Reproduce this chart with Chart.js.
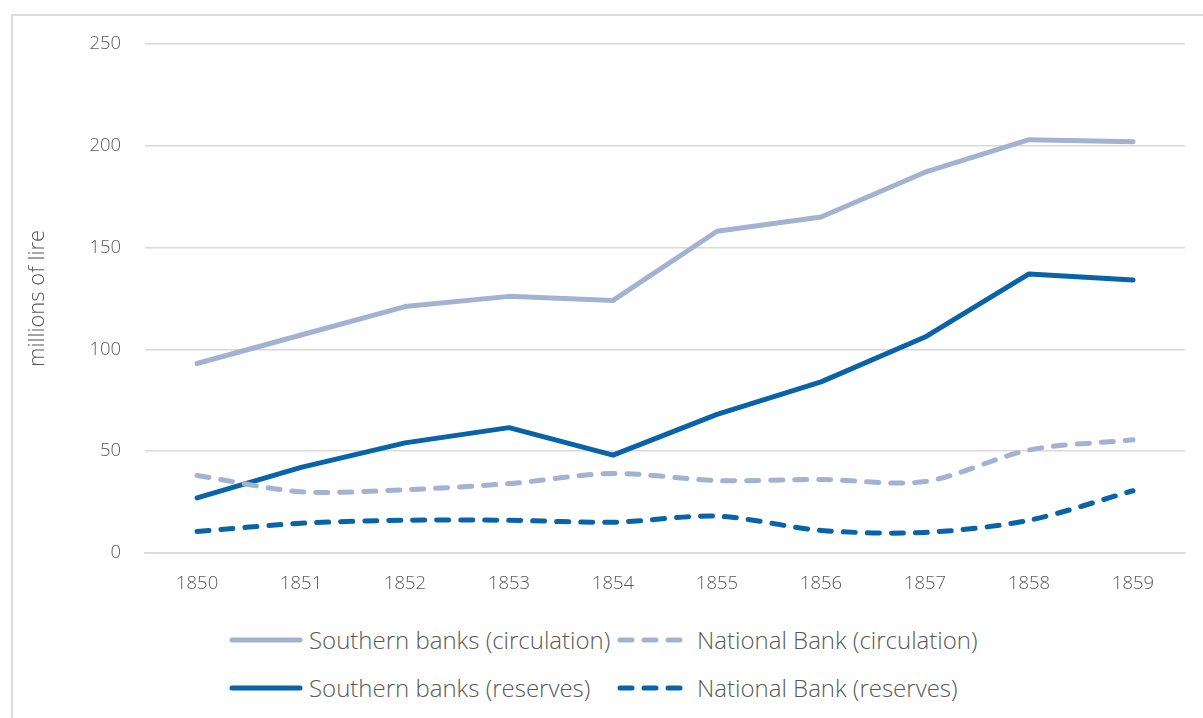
<!DOCTYPE html>
<html>
<head>
<meta charset="utf-8">
<script src="https://cdn.jsdelivr.net/npm/chart.js@4"></script>
<style>
  body { margin: 0; background: #fff; font-family: "Open Sans", sans-serif; }
  #frame { position: absolute; left: 11px; top: 14px; width: 1300px; height: 800px;
           border-left: 2px solid #dcdcdc; border-top: 2px solid #dcdcdc; }
  #wrap { position: absolute; left: 0; top: 0; width: 1203px; height: 607px; }
  .leg { position: absolute; display: flex; align-items: center; color: #595959;
         font-size: 24px; font-weight: 300; white-space: nowrap; }
  .leg canvas { margin-right: 6px; }
</style>
</head>
<body>
<div id="frame"></div>
<div id="wrap"><canvas id="chart"></canvas></div>
<div id="legend"></div>
<script>
//data
let years = ['1850','1851','1852','1853','1854','1855','1856','1857','1858','1859'];
let southernCirculation = [93, 107, 121, 126, 124, 158, 165, 187, 203, 202];
let nationalCirculation = [38, 30, 31, 34, 39, 35.5, 36, 35, 50.5, 55.5];
let southernReserves = [27, 42, 54, 61.5, 48, 68, 84, 106, 137, 134];
let nationalReserves = [10.5, 14.5, 16, 16, 15, 18, 11, 10, 16, 30.5];

const lightBlue = '#A3B2D1';
const darkBlue = '#0863A8';

let chartData = {
  labels: years,
  datasets: [
    { label: 'Southern banks (circulation)', data: southernCirculation,
      borderColor: lightBlue, borderWidth: 5, tension: 0 },
    { label: 'National Bank (circulation)', data: nationalCirculation,
      borderColor: lightBlue, borderWidth: 5, borderDash: [12, 12], tension: 0.3 },
    { label: 'Southern banks (reserves)', data: southernReserves,
      borderColor: darkBlue, borderWidth: 5, tension: 0 },
    { label: 'National Bank (reserves)', data: nationalReserves,
      borderColor: darkBlue, borderWidth: 5, borderDash: [12, 12], tension: 0.3 }
  ]
};
chartData.datasets.forEach(function(d){
  d.pointRadius = 0;
  d.borderCapStyle = 'round';
  d.borderJoinStyle = 'round';
  d.fill = false;
});

let tickFont = { family: 'Open Sans', size: 18.5, weight: 300 };

let chartOptions = {
  responsive: true,
  maintainAspectRatio: false,
  animation: false,
  layout: { padding: { top: 44, right: 18, left: 25, bottom: 0 } },
  scales: {
    x: {
      offset: true,
      grid: { display: false },
      border: { color: '#d9d9d9', width: 1.5 },
      ticks: { color: '#595959', font: tickFont, padding: 12 }
    },
    y: {
      min: 0, max: 250,
      ticks: { stepSize: 50, color: '#595959', font: tickFont, padding: 24 },
      grid: { color: '#d9d9d9', lineWidth: 1.5, drawTicks: false },
      border: { display: false },
      title: { display: true, text: 'millions of lire', color: '#595959',
               font: { family: 'Open Sans', size: 22, weight: 300 }, padding: { top: 0, bottom: 14 } }
    }
  },
  plugins: { legend: { display: false }, tooltip: { enabled: false } }
};

let chart = new Chart(document.getElementById('chart'), {
  type: 'line',
  data: chartData,
  options: chartOptions
});

//legend in two rows
let legendPos = [[232, 640], [620, 640], [232, 688], [620, 688]];
let legendBox = document.getElementById('legend');
chartData.datasets.forEach(function(d, i){
  let item = document.createElement('div');
  item.className = 'leg';
  let sw = document.createElement('canvas');
  sw.width = 74; sw.height = 10;
  let ctx = sw.getContext('2d');
  ctx.strokeStyle = d.borderColor;
  ctx.lineWidth = 5;
  ctx.lineCap = 'round';
  if (d.borderDash) ctx.setLineDash([12, 12]);
  ctx.beginPath();
  ctx.moveTo(3, 5);
  ctx.lineTo(d.borderDash ? 68 : 71, 5);
  ctx.stroke();
  item.appendChild(sw);
  let t = document.createElement('span');
  t.textContent = d.label;
  item.appendChild(t);
  item.style.left = (legendPos[i][0] - 3) + 'px';
  item.style.top = (legendPos[i][1] - 17) + 'px';
  legendBox.appendChild(item);
});
</script>
</body>
</html>
